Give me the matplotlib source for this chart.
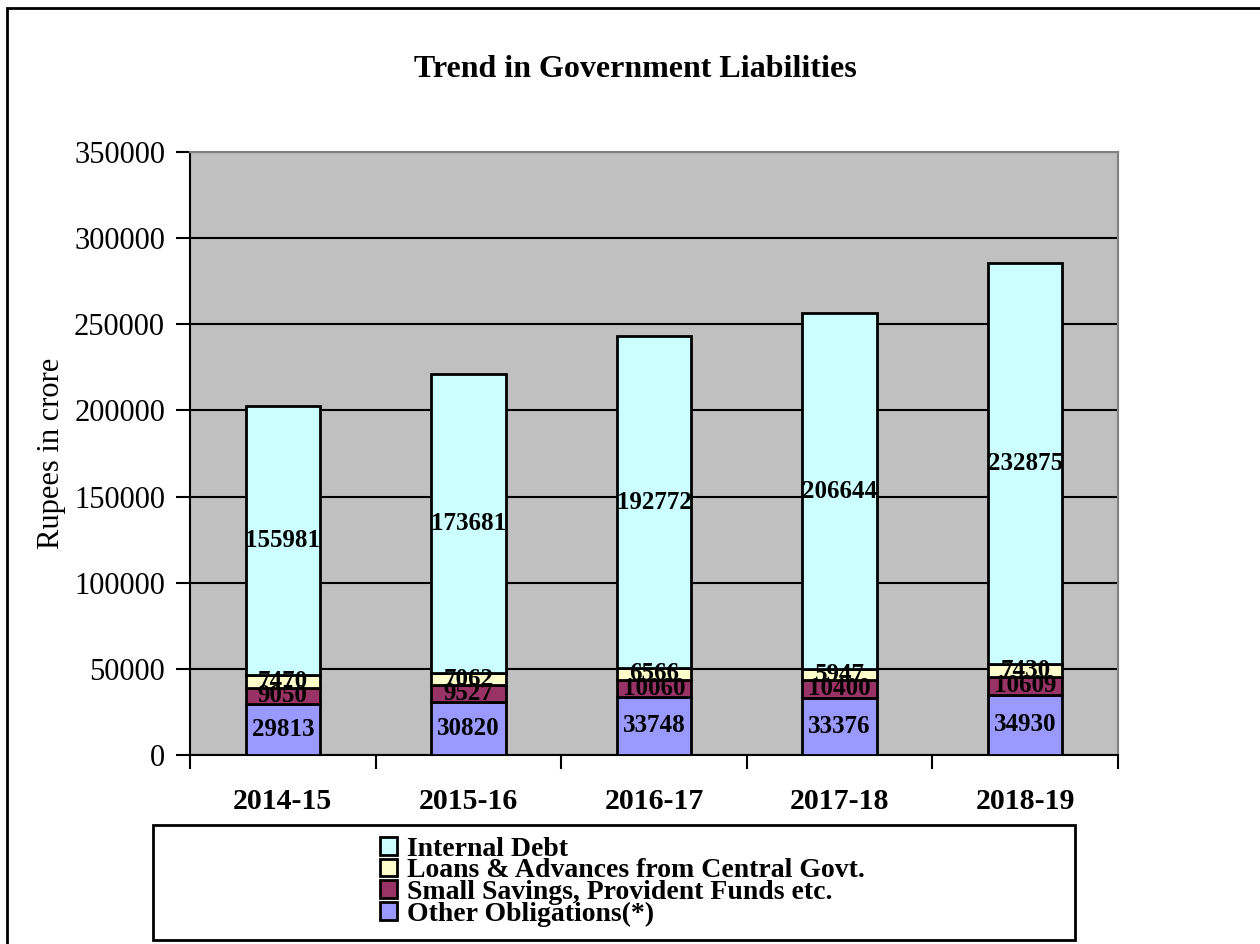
import numpy as np
import matplotlib.pyplot as plt
from matplotlib.patches import Rectangle

plt.rcParams['font.family'] = ['Liberation Serif', 'DejaVu Serif']

years = ['2014-15', '2015-16', '2016-17', '2017-18', '2018-19']
other_obligations = [29813, 30820, 33748, 33376, 34930]
small_savings = [9050, 9527, 10060, 10400, 10609]
loans_advances = [7470, 7062, 6566, 5947, 7430]
internal_debt = [155981, 173681, 192772, 206644, 232875]

series = [
    ('Other Obligations(*)', other_obligations, '#9999FF'),
    ('Small Savings, Provident Funds etc.', small_savings, '#993366'),
    ('Loans & Advances from Central Govt.', loans_advances, '#FFFFCC'),
    ('Internal Debt', internal_debt, '#CCFFFF'),
]

fig = plt.figure(figsize=(12.6, 9.44), dpi=100)
ax = fig.add_axes([0.1508, 0.2002, 0.7365, 0.6388])
ax.set_facecolor('#C0C0C0')

x = np.arange(len(years))
bottom = np.zeros(len(years))
bars = {}
for name, vals, col in series:
    vals = np.array(vals)
    b = ax.bar(x, vals, width=0.4, bottom=bottom, color=col,
               edgecolor='black', linewidth=2, label=name, zorder=3)
    for xi, v, b0 in zip(x, vals, bottom):
        ax.text(xi, b0 + v / 2, f'{v}', ha='center', va='center',
                fontsize=18, fontweight='bold', zorder=4)
    bars[name] = b
    bottom += vals

ax.set_xlim(-0.5, len(years) - 0.5)
ax.set_ylim(0, 350000)
ax.set_yticks(np.arange(0, 350001, 50000))
ax.yaxis.grid(True, color='black', linewidth=1.5, zorder=1)
ax.set_axisbelow(True)
ax.tick_params(axis='y', labelsize=22, length=10, width=1.5, direction='out', pad=8)

ax.set_xticks(x)
ax.set_xticklabels(years, fontsize=21.5, fontweight='bold')
ax.set_xticks(np.arange(-0.5, len(years)), minor=True)
ax.tick_params(axis='x', which='major', length=0, pad=24)
ax.tick_params(axis='x', which='minor', length=10, width=1.5, direction='out')

ax.set_ylabel('Rupees in crore', fontsize=22, labelpad=6)

for side in ['top', 'right']:
    ax.spines[side].set_color('#808080')
    ax.spines[side].set_linewidth(1.5)
for side in ['left', 'bottom']:
    ax.spines[side].set_color('black')
    ax.spines[side].set_linewidth(1.5)

fig.text(0.504, 0.926, 'Trend in Government Liabilities', ha='center',
         va='center', fontsize=23, fontweight='bold')

# outer chart border (runs off the right and bottom edges)
fig.patches.append(Rectangle((0.0056, -0.1), 1.2, 1.0915, transform=fig.transFigure,
                             fill=False, edgecolor='black', linewidth=2))

# legend box
fig.patches.append(Rectangle((0.1214, 0.004), 0.7317, 0.122, transform=fig.transFigure,
                             fill=False, edgecolor='black', linewidth=2))
labels = ['Internal Debt', 'Loans & Advances from Central Govt.',
          'Small Savings, Provident Funds etc.', 'Other Obligations(*)']
handles = [bars[n] for n in labels]
fig.legend(handles, labels, loc='center', bbox_to_anchor=(0.494, 0.066),
           frameon=False, prop={'size': 20, 'weight': 'bold'},
           handlelength=0.6, handleheight=0.6, handletextpad=0.35,
           labelspacing=-0.12, borderpad=0)

fig.savefig('out.png', dpi=100)
